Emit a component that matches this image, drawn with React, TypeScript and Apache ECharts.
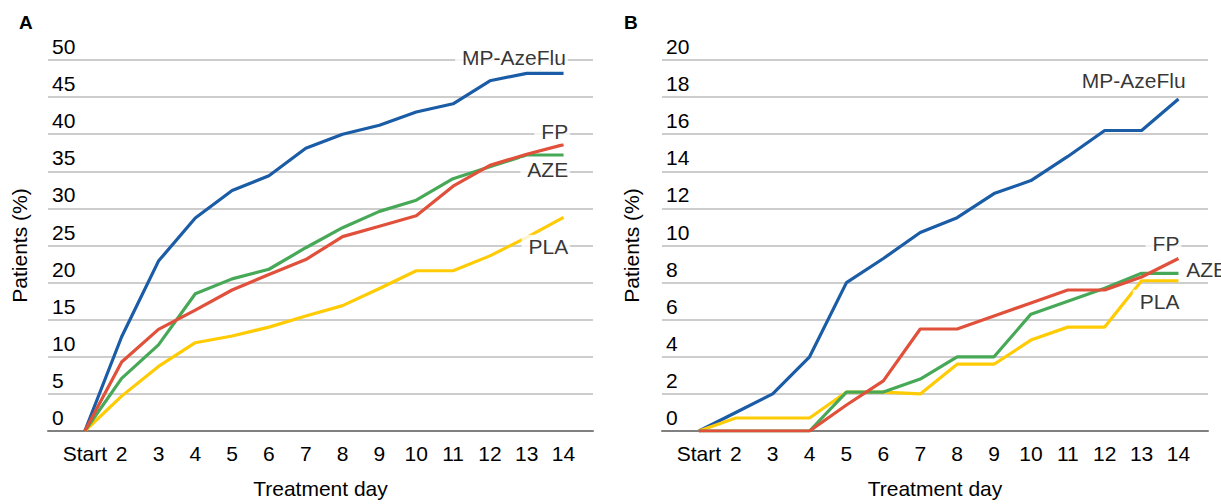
import React, { useEffect, useRef } from 'react';
import * as echarts from 'echarts';

const days = ['Start', '2', '3', '4', '5', '6', '7', '8', '9', '10', '11', '12', '13', '14'];

// Panel A
const aMP = [0, 12.7, 22.9, 28.7, 32.4, 34.4, 38.1, 40.0, 41.2, 43.0, 44.1, 47.2, 48.2, 48.2];
const aFP = [0, 9.3, 13.7, 16.3, 19.0, 21.1, 23.1, 26.2, 27.6, 29.0, 33.0, 35.8, 37.3, 38.6];
const aAZE = [0, 7.1, 11.6, 18.5, 20.5, 21.8, 24.7, 27.4, 29.6, 31.1, 34.0, 35.6, 37.2, 37.2];
const aPLA = [0, 4.7, 8.7, 11.9, 12.8, 14.0, 15.5, 16.9, 19.2, 21.6, 21.6, 23.6, 26.1, 28.8];

// Panel B
const bMP = [0, 1.0, 2.0, 4.0, 8.0, 9.3, 10.7, 11.5, 12.8, 13.5, 14.8, 16.2, 16.2, 17.9];
const bFP = [0, 0, 0, 0, 1.4, 2.7, 5.5, 5.5, 6.2, 6.9, 7.6, 7.6, 8.3, 9.3];
const bAZE = [0, 0, 0, 0, 2.1, 2.1, 2.8, 4.0, 4.0, 6.3, 7.0, 7.7, 8.5, 8.5];
const bPLA = [0, 0.7, 0.7, 0.7, 2.1, 2.1, 2.0, 3.6, 3.6, 4.9, 5.6, 5.6, 8.1, 8.1];

const names = ['MP-AzeFlu', 'FP', 'AZE', 'PLA'];
const colors = ['#1a5ca6', '#e0503a', '#47a957', '#ffcb05'];

// end-of-line tags: [x position in day index units, y value, side]
const tagXA = [13.12, 13.18, 13.18, 13.18];
const tagYA = [50.3, 40.3, 35.2, 24.9];
const tagSideA = ['left', 'left', 'left', 'left'];
const tagXB = [13.25, 13.08, 13.13, 13.08];
const tagYB = [18.9, 10.1, 8.7, 7.0];
const tagSideB = ['left', 'left', 'right', 'left'];

const yTicksA = { min: 0, max: 50, interval: 5 };
const yTicksB = { min: 0, max: 20, interval: 2 };

const FONT = "'Liberation Sans', Arial, sans-serif";
const FS = 21;

export default function App() {
  const ref = useRef<HTMLDivElement>(null);
  useEffect(() => {
    if (!ref.current) return;
    const chart = echarts.init(ref.current, undefined, { renderer: 'svg' });

    const panels = [
      { data: [aMP, aFP, aAZE, aPLA], tx: tagXA, ty: tagYA, ts: tagSideA, y: yTicksA },
      { data: [bMP, bFP, bAZE, bPLA], tx: tagXB, ty: tagYB, ts: tagSideB, y: yTicksB },
    ];

    const xAxis: any[] = [];
    const yAxis: any[] = [];
    const series: any[] = [];

    panels.forEach((p, gi) => {
      xAxis.push({
        type: 'value',
        gridIndex: gi,
        min: -1,
        max: 13.8,
        interval: 1,
        axisTick: { show: false },
        splitLine: { show: false },
        axisLine: { show: true, lineStyle: { color: '#808080', width: 2 } },
        axisLabel: {
          fontFamily: FONT,
          fontSize: FS,
          color: '#000',
          margin: 12,
          formatter: (v: number) => (Number.isInteger(v) && v >= 0 && v < days.length ? days[v] : ''),
        },
        name: 'Treatment day',
        nameLocation: 'middle',
        nameGap: 47,
        nameTextStyle: { fontFamily: FONT, fontSize: FS, color: '#000' },
      });
      yAxis.push({
        type: 'value',
        gridIndex: gi,
        min: p.y.min,
        max: p.y.max,
        interval: p.y.interval,
        axisLine: { show: false },
        axisTick: { show: false },
        splitLine: { show: true, lineStyle: { color: '#bdbdbd', width: 1.5 } },
        axisLabel: {
          inside: true,
          margin: 4,
          verticalAlign: 'bottom',
          fontFamily: FONT,
          fontSize: FS,
          lineHeight: 21,
          padding: [0, 0, 3, 0],
          color: '#000',
        },
        name: 'Patients (%)',
        nameLocation: 'middle',
        nameGap: gi === 0 ? 18 : 20,
        nameTextStyle: { fontFamily: FONT, fontSize: FS, color: '#000' },
      });

      const order = [0, 3, 2, 1];
      order.forEach((si) => {
        series.push({
          type: 'line',
          name: names[si] + gi,
          xAxisIndex: gi,
          yAxisIndex: gi,
          data: p.data[si].map((v, i) => [i, v]),
          symbol: 'none',
          lineStyle: { color: colors[si], width: 3.2 },
          itemStyle: { color: colors[si] },
          z: 3,
        });
      });

      series.push({
        type: 'scatter',
        xAxisIndex: gi,
        yAxisIndex: gi,
        symbolSize: 0,
        silent: true,
        clip: false,
        z: 5,
        data: names.map((n, i) => ({
          value: [p.tx[i], p.ty[i]],
          label: {
            show: true,
            formatter: n,
            position: p.ts[i],
            distance: 0,
            fontFamily: FONT,
            fontSize: FS,
            color: '#000',
            backgroundColor: '#fff',
            padding: p.ts[i] === 'left' ? [1, 2, 1, 7] : [1, 2, 1, 3],
          },
        })),
      });
    });

    chart.setOption({
      animation: false,
      backgroundColor: '#fff',
      title: [
        { text: 'A', left: 19, top: 13, padding: 0, textStyle: { fontFamily: FONT, fontSize: 19, fontWeight: 'bold', color: '#000' } },
        { text: 'B', left: 624, top: 13, padding: 0, textStyle: { fontFamily: FONT, fontSize: 19, fontWeight: 'bold', color: '#000' } },
      ],
      grid: [
        { left: 48, width: 545, top: 60, height: 374, containLabel: false },
        { left: 662, width: 546, top: 60, height: 374, containLabel: false },
      ],
      xAxis,
      yAxis,
      series,
    });

    return () => chart.dispose();
  }, []);

  return (
    <div
      ref={ref}
      style={{ position: 'fixed', left: 0, top: 0, width: 1221, height: 504 }}
    />
  );
}
